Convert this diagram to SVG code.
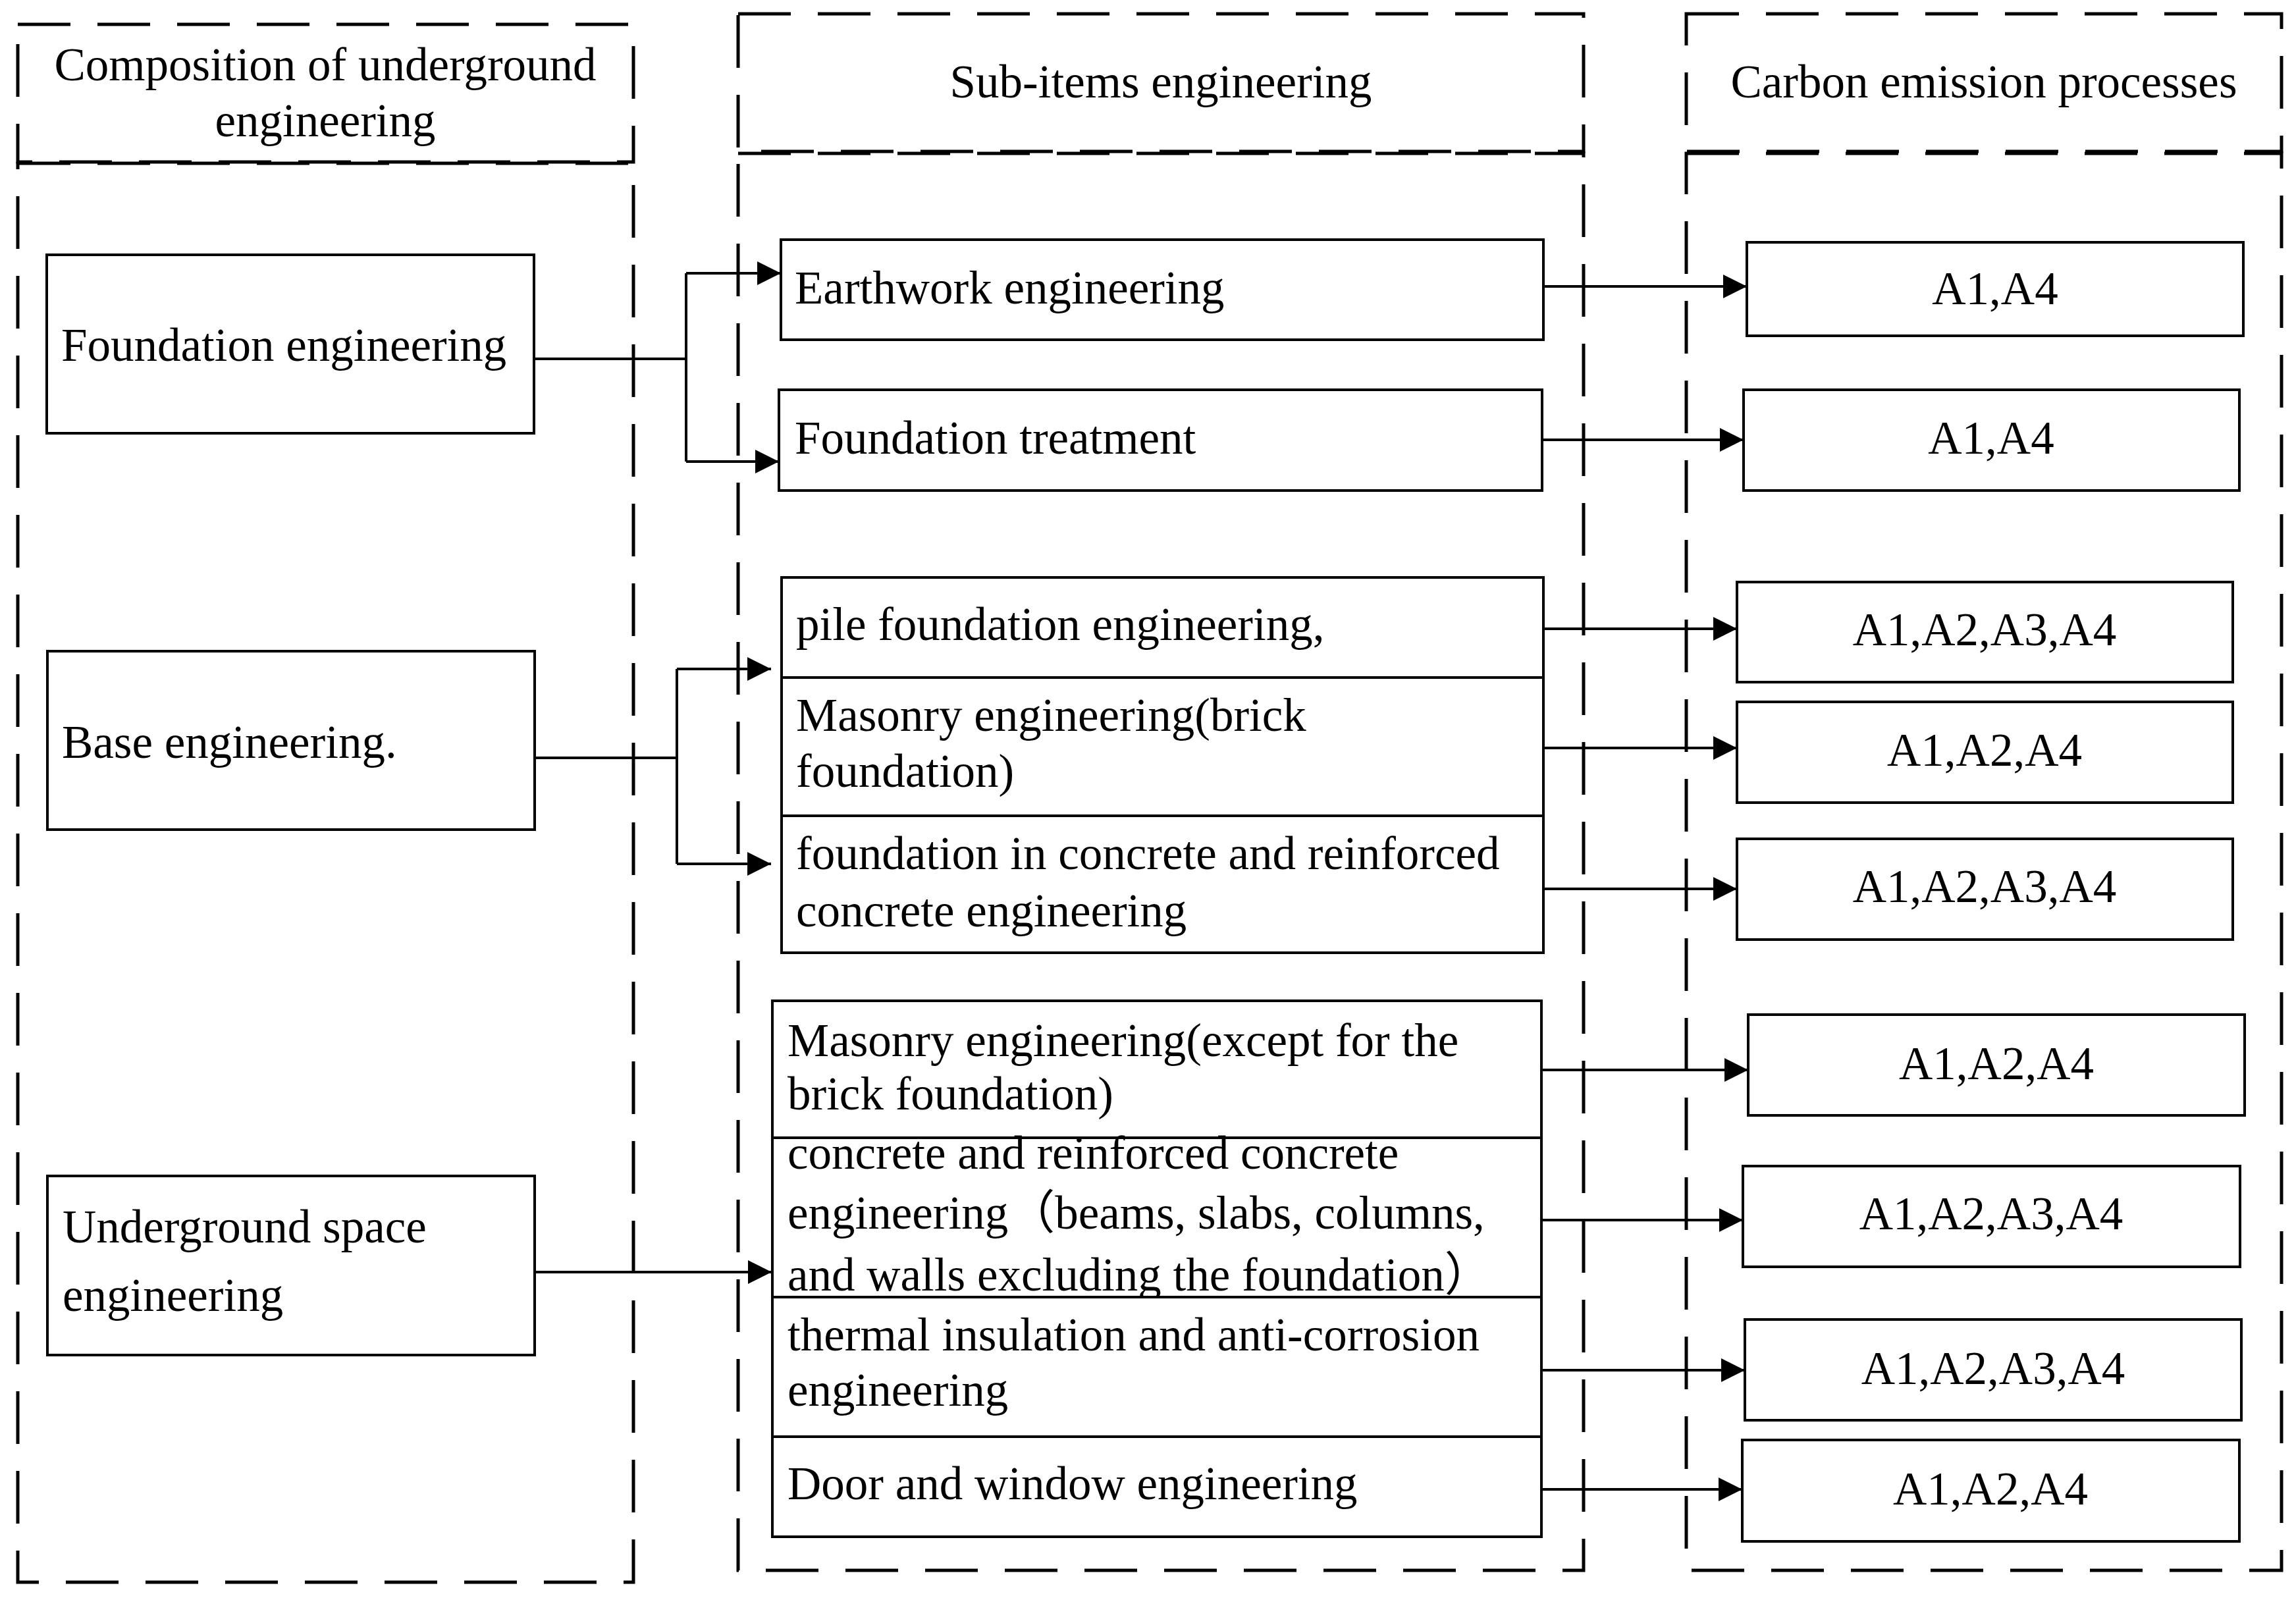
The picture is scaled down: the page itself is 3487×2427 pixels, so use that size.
<svg xmlns="http://www.w3.org/2000/svg" width="3487" height="2427" viewBox="0 0 3487 2427">
<defs>
<style>
.t{font-family:"Liberation Serif","Times New Roman","Noto Sans CJK SC",serif;font-size:71px;fill:#000}
.c{text-anchor:middle}
.box{fill:#fff;stroke:#000;stroke-width:4}
.dash{fill:none;stroke:#000;stroke-width:5;stroke-dasharray:80 41}
.ln{fill:none;stroke:#000;stroke-width:4}
</style>
<marker id="arr" markerUnits="userSpaceOnUse" markerWidth="36" markerHeight="36" refX="36" refY="18" orient="auto">
<path d="M0,0 L36,18 L0,36 Z" fill="#000"/>
</marker>
</defs>
<rect width="3487" height="2427" fill="#fff"/>

<g id="col-composition">
<rect class="dash" x="27" y="37" width="935" height="209"/>
<rect class="dash" x="27" y="248" width="935" height="2155"/>
<text class="t c" x="494" y="122">Composition of underground</text>
<text class="t c" x="494" y="207">engineering</text>
</g>
<g id="col-subitems">
<rect class="dash" x="1121" y="21" width="1284" height="209"/>
<rect class="dash" x="1121" y="233" width="1284" height="2152"/>
<text class="t c" x="1763" y="148">Sub-items engineering</text>
</g>
<g id="col-carbon">
<rect class="dash" x="2561" y="21" width="904" height="209"/>
<rect class="dash" x="2561" y="233" width="904" height="2152"/>
<text class="t c" x="3013" y="148">Carbon emission processes</text>
</g>

<g id="connectors">
<path class="ln" d="M811,545 H1042 M1042,415 V701"/>
<path class="ln" d="M1042,415 H1186" marker-end="url(#arr)"/>
<path class="ln" d="M1042,701 H1183" marker-end="url(#arr)"/>
<path class="ln" d="M812,1151 H1028 M1028,1016 V1312"/>
<path class="ln" d="M1028,1016 H1171" marker-end="url(#arr)"/>
<path class="ln" d="M1028,1312 H1171" marker-end="url(#arr)"/>
<path class="ln" d="M812,1932 H1172" marker-end="url(#arr)"/>
<path class="ln" d="M2344,435 H2653" marker-end="url(#arr)"/>
<path class="ln" d="M2342,668 H2648" marker-end="url(#arr)"/>
<path class="ln" d="M2344,955 H2638" marker-end="url(#arr)"/>
<path class="ln" d="M2344,1136 H2638" marker-end="url(#arr)"/>
<path class="ln" d="M2344,1350 H2638" marker-end="url(#arr)"/>
<path class="ln" d="M2341,1625 H2655" marker-end="url(#arr)"/>
<path class="ln" d="M2341,1853 H2647" marker-end="url(#arr)"/>
<path class="ln" d="M2341,2081 H2650" marker-end="url(#arr)"/>
<path class="ln" d="M2341,2262 H2646" marker-end="url(#arr)"/>
</g>

<g id="n-foundation-eng">
<rect class="box" x="71" y="387" width="740" height="271"/>
<text class="t" x="93" y="548">Foundation engineering</text>
</g>
<g id="n-base-eng">
<rect class="box" x="72" y="989" width="740" height="271"/>
<text class="t" x="94" y="1151">Base engineering.</text>
</g>
<g id="n-underground-space">
<rect class="box" x="72" y="1786" width="740" height="272"/>
<text class="t" x="95" y="1887">Underground space</text>
<text class="t" x="95" y="1991">engineering</text>
</g>

<g id="n-earthwork">
<rect class="box" x="1186" y="364" width="1158" height="152"/>
<text class="t" x="1207" y="461">Earthwork engineering</text>
</g>
<g id="n-foundation-treatment">
<rect class="box" x="1183" y="592" width="1159" height="153"/>
<text class="t" x="1207" y="689">Foundation treatment</text>
</g>
<g id="n-pile">
<rect class="box" x="1187" y="877" width="1157" height="152"/>
<text class="t" x="1209" y="972">pile foundation engineering,</text>
</g>
<g id="n-masonry-brick">
<rect class="box" x="1187" y="1029" width="1157" height="210"/>
<text class="t" x="1209" y="1110">Masonry engineering(brick</text>
<text class="t" x="1209" y="1195">foundation)</text>
</g>
<g id="n-foundation-concrete">
<rect class="box" x="1187" y="1239" width="1157" height="208"/>
<text class="t" x="1209" y="1320">foundation in concrete and reinforced</text>
<text class="t" x="1209" y="1407">concrete engineering</text>
</g>
<g id="n-masonry-except">
<rect class="box" x="1173" y="1520" width="1168" height="208"/>
<text class="t" x="1196" y="1604">Masonry engineering(except for the</text>
<text class="t" x="1196" y="1685">brick foundation)</text>
</g>
<g id="n-concrete-rc">
<rect class="box" x="1173" y="1728" width="1168" height="242"/>
<text class="t" x="1196" y="1775">concrete and reinforced concrete</text>
<text class="t" x="1196" y="1866">engineering（beams, slabs, columns,</text>
<text class="t" x="1196" y="1960">and walls excluding the foundation）</text>
</g>
<g id="n-thermal">
<rect class="box" x="1173" y="1970" width="1168" height="212"/>
<text class="t" x="1196" y="2051">thermal insulation and anti-corrosion</text>
<text class="t" x="1196" y="2135">engineering</text>
</g>
<g id="n-door-window">
<rect class="box" x="1173" y="2182" width="1168" height="152"/>
<text class="t" x="1196" y="2277">Door and window engineering</text>
</g>

<g id="n-r1">
<rect class="box" x="2653" y="368" width="754" height="142"/>
<text class="t c" x="3030" y="462">A1,A4</text>
</g>
<g id="n-r2">
<rect class="box" x="2648" y="592" width="753" height="153"/>
<text class="t c" x="3024" y="689">A1,A4</text>
</g>
<g id="n-r3">
<rect class="box" x="2638" y="884" width="753" height="152"/>
<text class="t c" x="3014" y="980">A1,A2,A3,A4</text>
</g>
<g id="n-r4">
<rect class="box" x="2638" y="1066" width="753" height="153"/>
<text class="t c" x="3014" y="1163">A1,A2,A4</text>
</g>
<g id="n-r5">
<rect class="box" x="2638" y="1274" width="753" height="153"/>
<text class="t c" x="3014" y="1370">A1,A2,A3,A4</text>
</g>
<g id="n-r6">
<rect class="box" x="2655" y="1541" width="754" height="153"/>
<text class="t c" x="3032" y="1639">A1,A2,A4</text>
</g>
<g id="n-r7">
<rect class="box" x="2647" y="1771" width="755" height="153"/>
<text class="t c" x="3024" y="1867">A1,A2,A3,A4</text>
</g>
<g id="n-r8">
<rect class="box" x="2650" y="2004" width="754" height="153"/>
<text class="t c" x="3027" y="2102">A1,A2,A3,A4</text>
</g>
<g id="n-r9">
<rect class="box" x="2646" y="2187" width="755" height="154"/>
<text class="t c" x="3023" y="2285">A1,A2,A4</text>
</g>
</svg>
